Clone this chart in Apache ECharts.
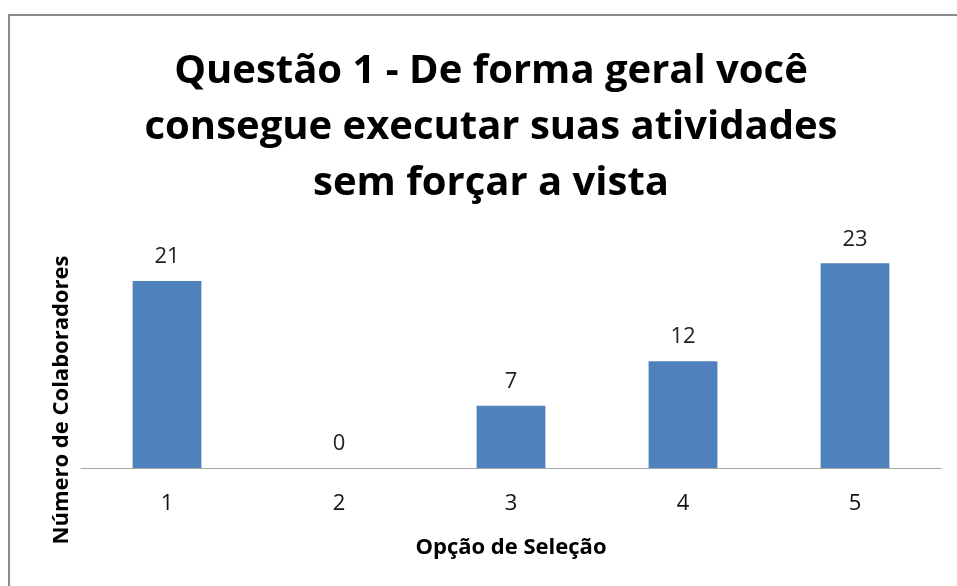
<!DOCTYPE html>
<html>
<head>
<meta charset="utf-8">
<script src="https://cdn.jsdelivr.net/npm/echarts@6/dist/echarts.min.js"></script>
<style>
  html, body { margin: 0; padding: 0; background: #fff; }
  #chart { width: 957px; height: 586px; }
</style>
</head>
<body>
<div id="chart"></div>
<script>
const categories = ['1', '2', '3', '4', '5'];
const values = [21, 0, 7, 12, 23];
const titleText = 'Questão 1 - De forma geral você\nconsegue executar suas atividades\nsem forçar a vista';

const chart = echarts.init(document.getElementById('chart'));
const font = '"Open Sans", "Noto Sans", sans-serif';

const option = {
  animation: false,
  backgroundColor: '#fff',
  grid: {
    left: 81,
    right: 16,
    top: 245.5,
    bottom: 118
  },
  xAxis: {
    type: 'category',
    data: categories,
    name: 'Opção de Seleção',
    nameLocation: 'middle',
    nameGap: 69,
    nameTextStyle: { fontFamily: font, fontWeight: 'bold', fontSize: 22, color: '#000' },
    axisLine: { lineStyle: { color: '#a6a6a6', width: 1 } },
    axisTick: { show: false },
    axisLabel: { fontFamily: font, fontSize: 22, color: '#111', margin: 25 }
  },
  yAxis: {
    type: 'value',
    min: 0,
    max: 25,
    axisLine: { show: false },
    axisTick: { show: false },
    axisLabel: { show: false },
    splitLine: { show: false }
  },
  series: [{
    type: 'bar',
    data: values,
    barWidth: '40%',
    itemStyle: { color: '#4f81bd' },
    label: {
      show: true,
      position: 'top',
      distance: 13,
      fontFamily: font,
      fontSize: 22,
      color: '#222'
    }
  }],
  graphic: [
    {
      type: 'rect',
      shape: { x: 9, y: 15, width: 1200, height: 1000 },
      style: { fill: 'none', stroke: '#8c8c8c', lineWidth: 2 },
      silent: true
    },
    {
      type: 'text',
      x: 491,
      y: 44,
      style: {
        text: titleText,
        font: 'bold 40px ' + font,
        lineHeight: 56,
        fill: '#000',
        align: 'center',
        verticalAlign: 'top'
      }
    },
    {
      type: 'text',
      x: 62,
      y: 400,
      rotation: Math.PI / 2,
      style: {
        text: 'Número de Colaboradores',
        font: 'bold 22px ' + font,
        fill: '#000',
        align: 'center',
        verticalAlign: 'middle'
      }
    }
  ]
};

chart.setOption(option);
</script>
</body>
</html>
